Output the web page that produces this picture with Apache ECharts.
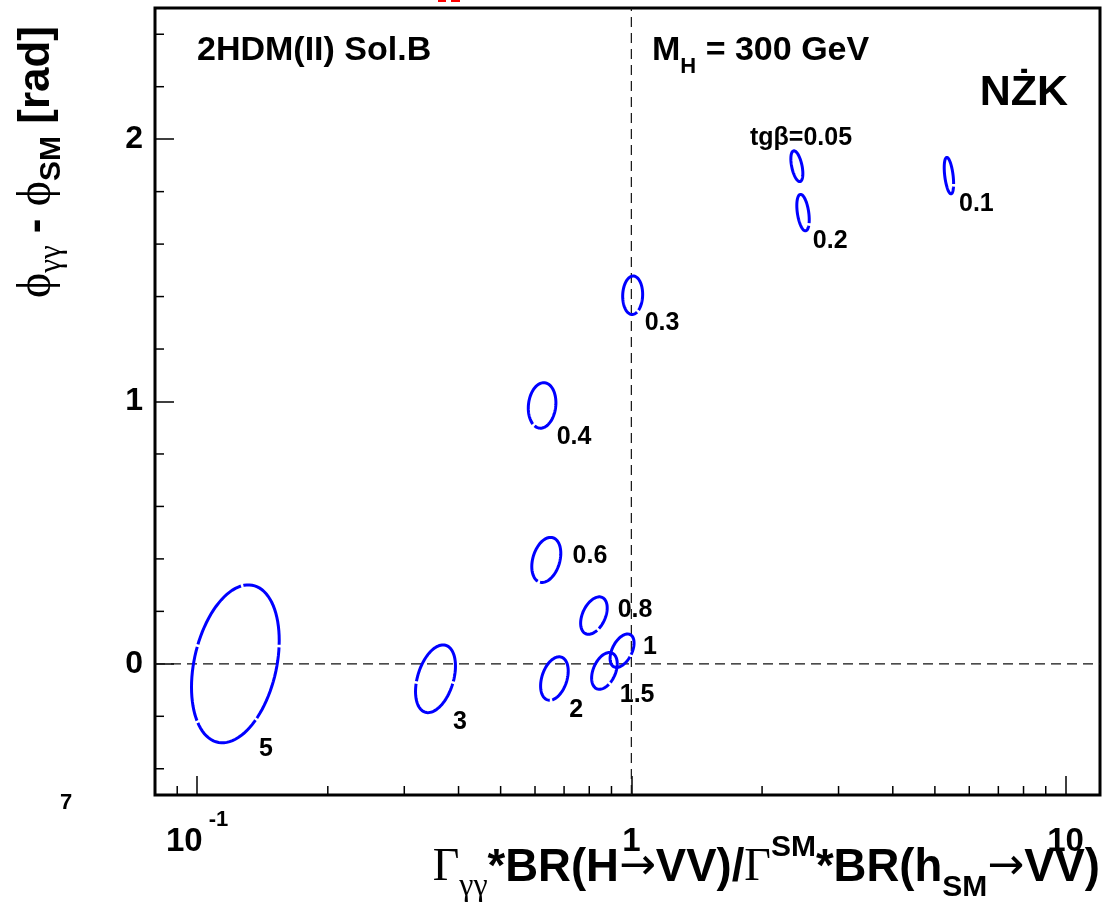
<!DOCTYPE html>
<html>
<head>
<meta charset="utf-8">
<script src="https://cdn.jsdelivr.net/npm/echarts@6/dist/echarts.min.js"></script>
<style>
  html, body { margin: 0; padding: 0; background: #fff; }
  #chart { width: 1103px; height: 909px; }
</style>
</head>
<body>
<div id="chart"></div>
<script>
// one ellipse per tan(beta)
const tgBeta = ['0.05', '0.1', '0.2', '0.3', '0.4', '0.6', '0.8', '1', '1.5', '2', '3', '5'];
// centres: x = ratio (log axis), y = phase difference [rad]
const centreX = [2.405, 5.386, 2.485, 1.007, 0.623, 0.637, 0.820, 0.952, 0.867, 0.665, 0.354, 0.1225];
const centreY = [1.897, 1.861, 1.720, 1.405, 0.985, 0.396, 0.184, 0.050, -0.027, -0.056, -0.057, 0.0];
// half extent in decades of x, half extent in rad, tilt of the ellipse
const halfWidth = [0.0138, 0.0108, 0.0143, 0.023, 0.0318, 0.0334, 0.0306, 0.0276, 0.0295, 0.0318, 0.046, 0.101];
const halfHeight = [0.0586, 0.0694, 0.0695, 0.0733, 0.0867, 0.0859, 0.0713, 0.0637, 0.070, 0.0828, 0.129, 0.301];
const tilt = [-0.5, -0.46, -0.4, 0.05, 0.12, 0.3, 0.42, 0.48, 0.4, 0.35, 0.385, 0.30];
// where the tan(beta) labels sit
const labelX = [2.459, 6.23, 2.87, 1.177, 0.738, 0.803, 1.02, 1.104, 1.031, 0.746, 0.403, 0.144];
const labelY = [2.005, 1.753, 1.612, 1.298, 0.863, 0.412, 0.206, 0.065, -0.118, -0.176, -0.2215, -0.325];

// axis ticks
const xMinor = [0.09, 0.2, 0.3, 0.4, 0.5, 0.6, 0.7, 0.8, 0.9, 2, 3, 4, 5, 6, 7, 8, 9];
const yMinor = [-0.4, -0.2, 0.2, 0.4, 0.6, 0.8, 1.2, 1.4, 1.6, 1.8, 2.2, 2.4];
const xMin = 0.08, xMax = 12, yMin = -0.5, yMax = 2.5;

const SANS = "'Liberation Sans', Arial, Helvetica, sans-serif";
const SERIF = "'Liberation Serif', 'Times New Roman', serif";

const chart = echarts.init(document.getElementById('chart'));

let ellipseData = [];
for (let i = 0; i < tgBeta.length; i++) {
  ellipseData.push([centreX[i], centreY[i], halfWidth[i], halfHeight[i], tilt[i]]);
}

let labelData = [];
for (let i = 0; i < tgBeta.length; i++) {
  labelData.push({ name: i === 0 ? 'tgβ=' + tgBeta[i] : tgBeta[i], value: [labelX[i], labelY[i]] });
}

function tickRender(vertical) {
  return function (params, api) {
    let p = vertical ? api.coord([api.value(0), yMin]) : api.coord([xMin, api.value(1)]);
    return {
      type: 'line',
      shape: vertical
        ? { x1: p[0], y1: p[1], x2: p[0], y2: p[1] - 9 }
        : { x1: p[0], y1: p[1], x2: p[0] + 9, y2: p[1] },
      style: { stroke: '#000', lineWidth: 1.5 }
    };
  };
}

function ellipseRender(params, api) {
  let cx = Math.log10(api.value(0));
  let cy = api.value(1);
  let w = api.value(2), h = api.value(3), phi = api.value(4);
  let pts = [];
  for (let k = 0; k < 96; k++) {
    let t = k / 96 * Math.PI * 2;
    pts.push(api.coord([Math.pow(10, cx + w * Math.cos(t)), cy + h * Math.sin(t + phi)]));
  }
  return {
    type: 'polygon',
    shape: { points: pts },
    style: { fill: 'none', stroke: '#0000ff', lineWidth: 3, lineDash: [75, 2.5] }
  };
}

let option = {
  backgroundColor: '#fff',
  animation: false,
  grid: {
    left: 155, right: 3, top: 8, bottom: 114,
    show: true, borderColor: '#000', borderWidth: 3
  },
  xAxis: {
    type: 'log',
    logBase: 10,
    min: xMin,
    max: xMax,
    axisLine: { show: false, onZero: false },
    splitLine: { show: false },
    axisTick: { inside: true, length: 19, lineStyle: { color: '#000', width: 1.5 } },
    axisLabel: {
      margin: 14,
      formatter: function (v) {
        if (Math.abs(v - 0.1) < 1e-6) return '{b|10}{s| -1}';
        if (Math.abs(v - 1) < 1e-6) return '{b|1}';
        if (Math.abs(v - 10) < 1e-6) return '{b|10}';
        return '';
      },
      rich: {
        b: { fontFamily: SANS, fontWeight: 'bold', fontSize: 33, color: '#000', lineHeight: 66 },
        s: { fontFamily: SANS, fontWeight: 'bold', fontSize: 22, color: '#000', lineHeight: 22, verticalAlign: 'top' }
      }
    }
  },
  yAxis: {
    type: 'value',
    min: yMin,
    max: yMax,
    splitNumber: 3,
    axisLine: { show: false, onZero: false },
    splitLine: { show: false },
    axisTick: { inside: true, length: 19, lineStyle: { color: '#000', width: 1.5 } },
    axisLabel: {
      margin: 12,
      fontFamily: SANS, fontWeight: 'bold', fontSize: 32, color: '#000',
      formatter: function (v) { return Math.abs(v - Math.round(v)) < 1e-9 ? String(Math.round(v)) : ''; }
    }
  },
  series: [
    {
      type: 'line',
      data: [[1, yMin], [1, yMax]],
      symbol: 'none',
      lineStyle: { color: '#111', width: 1.2, type: [10, 6] },
      z: 1
    },
    {
      type: 'line',
      data: [[xMin, 0], [xMax, 0]],
      symbol: 'none',
      lineStyle: { color: '#111', width: 1.2, type: [10, 6] },
      z: 1
    },
    {
      type: 'custom',
      renderItem: tickRender(true),
      data: xMinor.map(v => [v, yMin]),
      clip: false,
      z: 3
    },
    {
      type: 'custom',
      renderItem: tickRender(false),
      data: yMinor.map(v => [xMin, v]),
      clip: false,
      z: 3
    },
    {
      type: 'custom',
      renderItem: ellipseRender,
      data: ellipseData,
      encode: { x: 0, y: 1 },
      z: 2
    },
    {
      type: 'scatter',
      data: labelData,
      symbolSize: 0,
      itemStyle: { opacity: 1 },
      label: {
        show: true,
        position: 'inside',
        formatter: '{b}',
        fontFamily: SANS, fontWeight: 'bold', fontSize: 25, color: '#000'
      },
      z: 4
    }
  ],
  graphic: [
    { type: 'text', x: 197, y: 51, style: { text: '2HDM(II) Sol.B', font: 'bold 34px ' + SANS, fill: '#000', verticalAlign: 'middle' } },
    {
      type: 'text', x: 652, y: 51,
      style: {
        text: '{m|M}{s|H}{m| = 300 GeV}', verticalAlign: 'middle',
        rich: {
          m: { fontFamily: SANS, fontWeight: 'bold', fontSize: 34, fill: '#000', lineHeight: 54 },
          s: { fontFamily: SANS, fontWeight: 'bold', fontSize: 22, fill: '#000', lineHeight: 22, verticalAlign: 'bottom' }
        }
      }
    },
    { type: 'text', x: 1068, y: 93, style: { text: 'NŻK', font: 'bold 43px ' + SANS, fill: '#000', align: 'right', verticalAlign: 'middle' } },
    { type: 'text', x: 66, y: 803, style: { text: '7', font: 'bold 22px ' + SANS, fill: '#000', align: 'center', verticalAlign: 'middle' } },
    { type: 'rect', shape: { x: 438, y: 0, width: 8, height: 2 }, style: { fill: '#ff0000' } },
    { type: 'rect', shape: { x: 451, y: 0, width: 9, height: 2 }, style: { fill: '#ff0000' } },
    {
      type: 'text', x: 1100, y: 833,
      style: {
        text: '{g|Γ}{sub|γγ}{b|*BR(H}{a|→}{b|VV)/}{g|Γ}{sup|SM}{b|*BR(h}{bs|SM}{a|→}{b|VV)}',
        align: 'right', verticalAlign: 'top',
        rich: {
          g: { fontFamily: SERIF, fontSize: 46, fill: '#000', lineHeight: 70 },
          a: { fontFamily: "'DejaVu Sans', sans-serif", fontSize: 44, fill: '#000', lineHeight: 70 },
          b: { fontFamily: SANS, fontWeight: 'bold', fontSize: 45.5, fill: '#000', lineHeight: 70 },
          sub: { fontFamily: SERIF, fontSize: 32, fill: '#000', lineHeight: 30, verticalAlign: 'bottom' },
          bs: { fontFamily: SANS, fontWeight: 'bold', fontSize: 30, fill: '#000', lineHeight: 30, verticalAlign: 'bottom' },
          sup: { fontFamily: SANS, fontWeight: 'bold', fontSize: 30, fill: '#000', lineHeight: 26, verticalAlign: 'top' }
        }
      }
    },
    {
      type: 'text', x: 37, y: 162, rotation: Math.PI / 2,
      style: {
        text: '{g|ϕ}{sub|γγ}{b| - }{g|ϕ}{bs|SM}{b| [rad]}',
        align: 'center', verticalAlign: 'middle',
        rich: {
          g: { fontFamily: SERIF, fontSize: 48, fill: '#000', lineHeight: 60 },
          b: { fontFamily: SANS, fontWeight: 'bold', fontSize: 44, fill: '#000', lineHeight: 60 },
          sub: { fontFamily: SERIF, fontSize: 31, fill: '#000', lineHeight: 28, verticalAlign: 'bottom' },
          bs: { fontFamily: SANS, fontWeight: 'bold', fontSize: 30, fill: '#000', lineHeight: 28, verticalAlign: 'bottom' }
        }
      }
    }
  ]
};

chart.setOption(option);
</script>
</body>
</html>
